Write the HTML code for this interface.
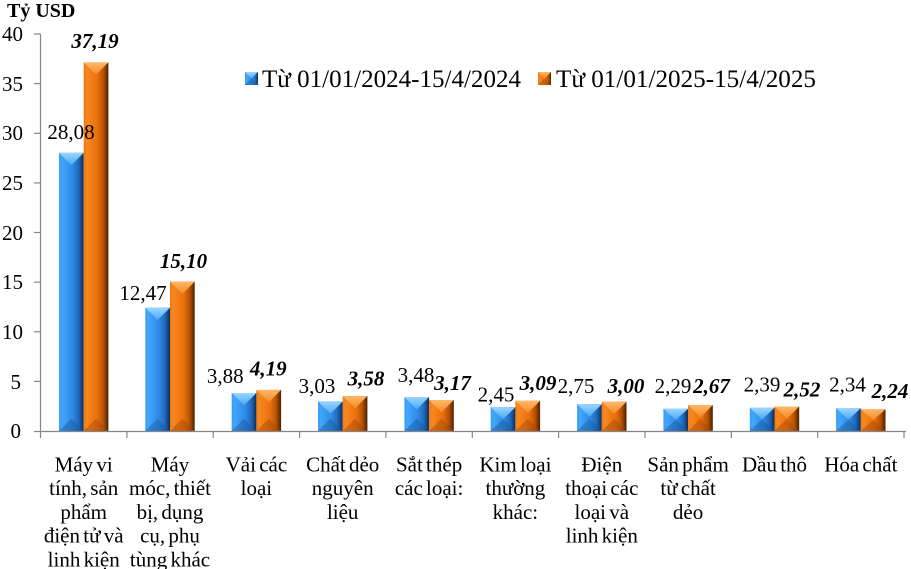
<!DOCTYPE html>
<html><head><meta charset="utf-8"><style>
html,body{margin:0;padding:0;background:#fff;}
svg{display:block;}
text{font-family:"Liberation Serif","Noto Serif CJK SC",serif;fill:#000;}
.cat text{word-spacing:-2px;}
</style></head><body>
<svg width="911" height="569" viewBox="0 0 911 569" xmlns="http://www.w3.org/2000/svg">
<defs>
<linearGradient id="gb" x1="0" y1="0" x2="1" y2="0">
<stop offset="0" stop-color="#3a9cf2"/><stop offset="0.12" stop-color="#42a6fb"/><stop offset="0.55" stop-color="#2d8ae6"/><stop offset="0.8" stop-color="#1f68b8"/><stop offset="1" stop-color="#0e2c56"/>
</linearGradient>
<linearGradient id="go" x1="0" y1="0" x2="1" y2="0">
<stop offset="0" stop-color="#ee7a16"/><stop offset="0.12" stop-color="#f8871e"/><stop offset="0.55" stop-color="#eb700c"/><stop offset="0.8" stop-color="#b45206"/><stop offset="1" stop-color="#4a2000"/>
</linearGradient>
<linearGradient id="gbt" x1="0" y1="0" x2="0" y2="1">
<stop offset="0" stop-color="#9ad6ff"/><stop offset="1" stop-color="#4aa8f6"/>
</linearGradient>
<linearGradient id="got" x1="0" y1="0" x2="0" y2="1">
<stop offset="0" stop-color="#ffb869"/><stop offset="1" stop-color="#f48a26"/>
</linearGradient>
</defs>

<!-- title -->
<text x="7" y="17" font-size="20" font-weight="bold">Tỷ USD</text>

<!-- y axis labels -->
<g font-size="21" text-anchor="end">
<text x="23" y="41">40</text>
<text x="23" y="91">35</text>
<text x="23" y="140">30</text>
<text x="23" y="190">25</text>
<text x="23" y="240">20</text>
<text x="23" y="289">15</text>
<text x="23" y="339">10</text>
<text x="21" y="389">5</text>
<text x="21" y="438">0</text>
</g>

<!-- bars -->
<g>
<rect x="59" y="152.8" width="24.7" height="278.2" fill="url(#gb)"/>
<polygon points="59,152.8 83.7,152.8 71.35,165.15" fill="url(#gbt)"/>
<polygon points="59,431 83.7,431 71.35,418.65" fill="#18569a" opacity=".45"/>
<rect x="83.7" y="62.4" width="24.7" height="368.6" fill="url(#go)"/>
<polygon points="83.7,62.4 108.4,62.4 96.05,74.75" fill="url(#got)"/>
<polygon points="83.7,431 108.4,431 96.05,418.65" fill="#a04606" opacity=".45"/>

<rect x="145.3" y="307.7" width="24.7" height="123.3" fill="url(#gb)"/>
<polygon points="145.3,307.7 170,307.7 157.65,320.05" fill="url(#gbt)"/>
<polygon points="145.3,431 170,431 157.65,418.65" fill="#18569a" opacity=".45"/>
<rect x="170" y="281.6" width="24.7" height="149.4" fill="url(#go)"/>
<polygon points="170,281.6 194.7,281.6 182.35,293.95" fill="url(#got)"/>
<polygon points="170,431 194.7,431 182.35,418.65" fill="#a04606" opacity=".45"/>

<rect x="231.7" y="393" width="24.7" height="38" fill="url(#gb)"/>
<polygon points="231.7,393 256.4,393 244.05,405.35" fill="url(#gbt)"/>
<polygon points="231.7,431 256.4,431 244.05,418.65" fill="#18569a" opacity=".45"/>
<rect x="256.4" y="389.9" width="24.7" height="41.1" fill="url(#go)"/>
<polygon points="256.4,389.9 281.1,389.9 268.75,402.25" fill="url(#got)"/>
<polygon points="256.4,431 281.1,431 268.75,418.65" fill="#a04606" opacity=".45"/>

<rect x="318" y="401.4" width="24.7" height="29.6" fill="url(#gb)"/>
<polygon points="318,401.4 342.7,401.4 330.35,413.75" fill="url(#gbt)"/>
<polygon points="318,431 342.7,431 330.35,418.65" fill="#18569a" opacity=".45"/>
<rect x="342.7" y="396" width="24.7" height="35" fill="url(#go)"/>
<polygon points="342.7,396 367.4,396 355.05,408.35" fill="url(#got)"/>
<polygon points="342.7,431 367.4,431 355.05,418.65" fill="#a04606" opacity=".45"/>

<rect x="404.4" y="397" width="24.7" height="34" fill="url(#gb)"/>
<polygon points="404.4,397 429.1,397 416.75,409.35" fill="url(#gbt)"/>
<polygon points="404.4,431 429.1,431 416.75,418.65" fill="#18569a" opacity=".45"/>
<rect x="429.1" y="400" width="24.7" height="31" fill="url(#go)"/>
<polygon points="429.1,400 453.8,400 441.45,412.35" fill="url(#got)"/>
<polygon points="429.1,431 453.8,431 441.45,418.65" fill="#a04606" opacity=".45"/>

<rect x="490.7" y="407.2" width="24.7" height="23.8" fill="url(#gb)"/>
<polygon points="490.7,407.2 515.4,407.2 503.05,419.1" fill="url(#gbt)"/>
<polygon points="490.7,431 515.4,431 503.05,419.1" fill="#18569a" opacity=".45"/>
<rect x="515.4" y="400.8" width="24.7" height="30.2" fill="url(#go)"/>
<polygon points="515.4,400.8 540.1,400.8 527.75,413.15" fill="url(#got)"/>
<polygon points="515.4,431 540.1,431 527.75,418.65" fill="#a04606" opacity=".45"/>

<rect x="577.1" y="404.2" width="24.7" height="26.8" fill="url(#gb)"/>
<polygon points="577.1,404.2 601.8,404.2 589.45,416.55" fill="url(#gbt)"/>
<polygon points="577.1,431 601.8,431 589.45,418.65" fill="#18569a" opacity=".45"/>
<rect x="601.8" y="401.7" width="24.7" height="29.3" fill="url(#go)"/>
<polygon points="601.8,401.7 626.5,401.7 614.15,414.05" fill="url(#got)"/>
<polygon points="601.8,431 626.5,431 614.15,418.65" fill="#a04606" opacity=".45"/>

<rect x="663.4" y="408.8" width="24.7" height="22.2" fill="url(#gb)"/>
<polygon points="663.4,408.8 688.1,408.8 675.75,419.9" fill="url(#gbt)"/>
<polygon points="663.4,431 688.1,431 675.75,419.9" fill="#18569a" opacity=".45"/>
<rect x="688.1" y="405" width="24.7" height="26" fill="url(#go)"/>
<polygon points="688.1,405 712.8,405 700.45,417.35" fill="url(#got)"/>
<polygon points="688.1,431 712.8,431 700.45,418.65" fill="#a04606" opacity=".45"/>

<rect x="749.8" y="407.8" width="24.7" height="23.2" fill="url(#gb)"/>
<polygon points="749.8,407.8 774.5,407.8 762.15,419.4" fill="url(#gbt)"/>
<polygon points="749.8,431 774.5,431 762.15,419.4" fill="#18569a" opacity=".45"/>
<rect x="774.5" y="406.5" width="24.7" height="24.5" fill="url(#go)"/>
<polygon points="774.5,406.5 799.2,406.5 786.85,418.75" fill="url(#got)"/>
<polygon points="774.5,431 799.2,431 786.85,418.75" fill="#a04606" opacity=".45"/>

<rect x="836.1" y="408.3" width="24.7" height="22.7" fill="url(#gb)"/>
<polygon points="836.1,408.3 860.8,408.3 848.45,419.65" fill="url(#gbt)"/>
<polygon points="836.1,431 860.8,431 848.45,419.65" fill="#18569a" opacity=".45"/>
<rect x="860.8" y="409.3" width="24.7" height="21.7" fill="url(#go)"/>
<polygon points="860.8,409.3 885.5,409.3 873.15,420.15" fill="url(#got)"/>
<polygon points="860.8,431 885.5,431 873.15,420.15" fill="#a04606" opacity=".45"/>
</g>

<!-- axes -->
<g stroke="#868686" stroke-width="1.2" fill="none">
<line x1="40.5" y1="34" x2="40.5" y2="431.5"/>
<line x1="40.5" y1="431.5" x2="906" y2="431.5"/>
<line x1="34" y1="34" x2="40.5" y2="34"/>
<line x1="34" y1="83.6" x2="40.5" y2="83.6"/>
<line x1="34" y1="133.3" x2="40.5" y2="133.3"/>
<line x1="34" y1="182.9" x2="40.5" y2="182.9"/>
<line x1="34" y1="232.5" x2="40.5" y2="232.5"/>
<line x1="34" y1="282.1" x2="40.5" y2="282.1"/>
<line x1="34" y1="331.8" x2="40.5" y2="331.8"/>
<line x1="34" y1="381.4" x2="40.5" y2="381.4"/>
<line x1="34" y1="431.5" x2="40.5" y2="431.5"/>
<line x1="40.5" y1="431.5" x2="40.5" y2="438"/>
<line x1="126.9" y1="431.5" x2="126.9" y2="438"/>
<line x1="213.2" y1="431.5" x2="213.2" y2="438"/>
<line x1="299.6" y1="431.5" x2="299.6" y2="438"/>
<line x1="385.9" y1="431.5" x2="385.9" y2="438"/>
<line x1="472.3" y1="431.5" x2="472.3" y2="438"/>
<line x1="558.6" y1="431.5" x2="558.6" y2="438"/>
<line x1="645" y1="431.5" x2="645" y2="438"/>
<line x1="731.3" y1="431.5" x2="731.3" y2="438"/>
<line x1="817.7" y1="431.5" x2="817.7" y2="438"/>
<line x1="904" y1="431.5" x2="904" y2="438"/>
</g>

<!-- data labels -->
<g font-size="21" text-anchor="middle">
<text x="71" y="139">28,08</text>
<text x="143" y="300">12,47</text>
<text x="225.3" y="383">3,88</text>
<text x="317" y="393">3,03</text>
<text x="416" y="382">3,48</text>
<text x="496" y="401.5">2,45</text>
<text x="576" y="393">2,75</text>
<text x="673" y="393">2,29</text>
<text x="762" y="391.5">2,39</text>
<text x="847.5" y="391.5">2,34</text>
</g>
<g font-size="21" text-anchor="middle" font-weight="bold" font-style="italic">
<text x="95" y="48">37,19</text>
<text x="183.5" y="268">15,10</text>
<text x="268.3" y="375.5">4,19</text>
<text x="366" y="385.5">3,58</text>
<text x="452.5" y="390">3,17</text>
<text x="538" y="390">3,09</text>
<text x="626" y="393">3,00</text>
<text x="711.5" y="393">2,67</text>
<text x="802" y="396.5">2,52</text>
<text x="890" y="398">2,24</text>
</g>

<!-- legend -->
<g>
<rect x="245" y="72" width="13" height="13" fill="url(#gb)"/>
<polygon points="245,72 258,72 251.5,78.5" fill="url(#gbt)"/>
<polygon points="245,85 258,85 251.5,78.5" fill="#18569a" opacity=".45"/>
<text x="262" y="87" font-size="25" textLength="259" lengthAdjust="spacingAndGlyphs">Từ 01/01/2024-15/4/2024</text>
<rect x="538" y="72" width="13" height="13" fill="url(#go)"/>
<polygon points="538,72 551,72 544.5,78.5" fill="url(#got)"/>
<polygon points="538,85 551,85 544.5,78.5" fill="#a04606" opacity=".45"/>
<text x="556" y="87" font-size="25" textLength="260" lengthAdjust="spacingAndGlyphs">Từ 01/01/2025-15/4/2025</text>
</g>

<!-- category labels -->
<g class="cat" font-size="21" text-anchor="middle">
<text x="83.7" y="471.5">Máy vi</text>
<text x="83.7" y="495.2">tính, sản</text>
<text x="83.7" y="518.9">phẩm</text>
<text x="83.7" y="542.6">điện tử và</text>
<text x="83.7" y="566.3">linh kiện</text>

<text x="170" y="471.5">Máy</text>
<text x="170" y="495.2">móc, thiết</text>
<text x="170" y="518.9">bị, dụng</text>
<text x="170" y="542.6">cụ, phụ</text>
<text x="170" y="566.3">tùng khác</text>

<text x="256.4" y="471.5">Vải các</text>
<text x="256.4" y="495.2">loại</text>

<text x="342.7" y="471.5">Chất dẻo</text>
<text x="342.7" y="495.2">nguyên</text>
<text x="342.7" y="518.9">liệu</text>

<text x="429.1" y="471.5">Sắt thép</text>
<text x="429.1" y="495.2">các loại:</text>

<text x="515.4" y="471.5">Kim loại</text>
<text x="515.4" y="495.2">thường</text>
<text x="515.4" y="518.9">khác:</text>

<text x="601.8" y="471.5">Điện</text>
<text x="601.8" y="495.2">thoại các</text>
<text x="601.8" y="518.9">loại và</text>
<text x="601.8" y="542.6">linh kiện</text>

<text x="688.1" y="471.5">Sản phẩm</text>
<text x="688.1" y="495.2">từ chất</text>
<text x="688.1" y="518.9">dẻo</text>

<text x="774.5" y="471.5">Dầu thô</text>

<text x="860.8" y="471.5">Hóa chất</text>
</g>
</svg>
</body></html>
